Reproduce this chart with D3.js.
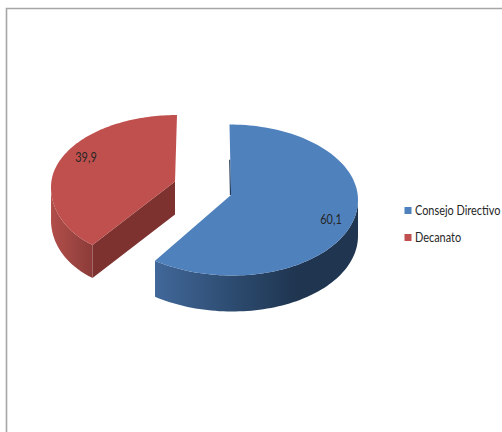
<!DOCTYPE html>
<html>
<head>
<meta charset="utf-8">
<script src="https://cdn.jsdelivr.net/npm/d3@7"></script>
<style>
html,body{margin:0;padding:0;background:#fff;overflow:hidden}
svg{display:block}
text{font-family:"Lato",sans-serif;fill:#262626}
</style>
</head>
<body>
<svg id="chart" width="502" height="432"></svg>
<script>
const categories = ["Consejo Directivo", "Decanato"];
const shares = [60.1, 39.9];
const shareLabels = ["60,1", "39,9"];
const topColors = ["#4f81bd", "#c0504d"];
const wallStops = [
  ["#41689a", "#2c4a6e", "#1f3550", "#1f3550"],
  ["#b04d49", "#a54844", "#9a4441", "#8c3b38"]
];
const cutColors = ["#1f3550", "#7d3230"];

const svg = d3.select("#chart");

// Frame of the chart area
svg.append("path")
  .attr("d", "M6.5,432V8.5H502")
  .attr("fill", "none").attr("stroke", "#a6a6a6").attr("stroke-width", 1.6);

const slices = d3.pie().sort(null).value(d => d)(shares);

// Tilted-pie geometry for each slice: rim ellipse, visible apex, wall height, lean of the front half
const geometry = [
  { cx: 229.5, cy: 200, rx: 128.5, ry: 75.5, apexX: 231, apexY: 195, depth: 36, lean: -0.035 },
  { cx: 177, cy: 187, rx: 126, ry: 72, apexX: 175, apexY: 181.5, depth: 33, lean: 0.21 }
];

function rim(g, angle) {
  const dx = Math.sin(angle) * g.rx;
  const dy = -Math.cos(angle) * g.ry;
  return [g.cx + dx - (dy > 0 ? g.lean * dy * dy / g.ry : 0), g.cy + dy];
}

function arcPoints(g, a0, a1) {
  return d3.range(0, 121).map(i => rim(g, a0 + (a1 - a0) * i / 120));
}

const line = d3.line();
const defs = svg.append("defs");

slices.forEach((s, i) => {
  const g = geometry[i];
  const apex = [g.apexX, g.apexY];
  const outer = arcPoints(g, s.startAngle, s.endAngle);
  const down = p => [p[0], p[1] + g.depth];

  const grad = defs.append("linearGradient")
    .attr("id", "wall" + i)
    .attr("gradientUnits", "userSpaceOnUse")
    .attr("x1", d3.min(outer, p => p[0])).attr("x2", i === 0 ? d3.max(outer, p => p[0]) : outer[0][0])
    .attr("y1", 0).attr("y2", 0);
  wallStops[i].forEach((c, k) => {
    grad.append("stop").attr("offset", i === 0 ? [0, 0.4, 0.7, 1][k] : [0, 0.35, 0.6, 1][k]).attr("stop-color", c);
  });

  // Outer wall: only the part of the rim on the viewer's side of the ellipse
  const front = outer.filter(p => p[1] >= g.cy - 2);
  svg.append("path")
    .attr("d", line(front.concat(front.slice().reverse().map(down))) + "Z")
    .attr("fill", `url(#wall${i})`);

  // Cut faces: the full one on the exploded slice, a thin sliver on the other
  const start = outer[0];
  if (i === 1) {
    const cut = [start, apex, down(apex), down(start)];
    svg.append("path").attr("d", line(cut) + "Z").attr("fill", cutColors[i]);
  } else {
    const mid = [start[0] + (apex[0] - start[0]) * 0.5, start[1] + (apex[1] - start[1]) * 0.5];
    svg.append("path").attr("d", line([mid, apex]))
      .attr("fill", "none").attr("stroke", cutColors[i]).attr("stroke-width", 1.2)
      .attr("transform", "translate(-0.5,0)");
  }

  // Top surface
  svg.append("path")
    .attr("d", line([apex].concat(outer)) + "Z")
    .attr("fill", topColors[i]);
});

// Condensed lettering: Lato squeezed horizontally
const squeeze = 0.78;

// Value labels on the slices
const labelSpots = [[331, 219], [86, 157]];
shareLabels.forEach((t, i) => {
  svg.append("text")
    .attr("transform", `translate(${labelSpots[i][0]},${labelSpots[i][1]}) scale(${squeeze},1)`)
    .attr("dy", "0.35em").attr("text-anchor", "middle")
    .attr("font-size", 14)
    .text(t);
});

// Legend
const legendY = d3.scalePoint().domain(categories).range([210, 237]);
categories.forEach((c, i) => {
  svg.append("rect")
    .attr("x", 404.5).attr("y", legendY(c) - 3).attr("width", 7).attr("height", 7)
    .attr("fill", topColors[i]);
  svg.append("text")
    .attr("transform", `translate(415,${legendY(c)}) scale(${squeeze},1)`)
    .attr("dy", "0.35em").attr("font-size", 14)
    .text(c);
});
</script>
</body>
</html>
